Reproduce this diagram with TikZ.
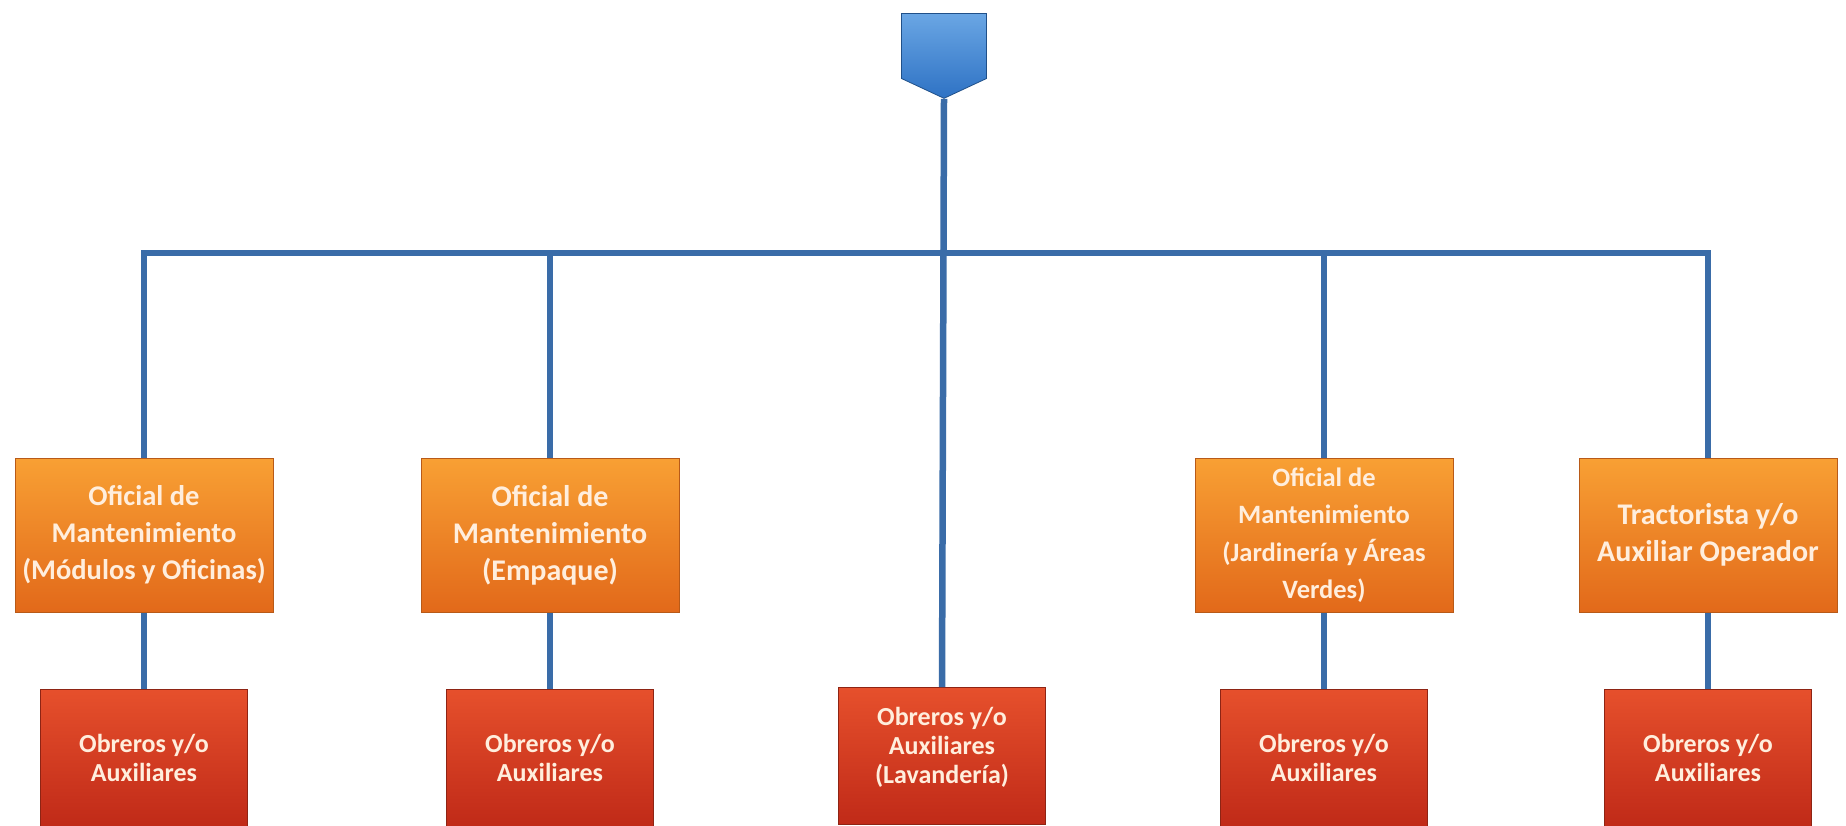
\documentclass[tikz,border=0pt]{standalone}
\usepackage{fontspec}
\setmainfont{Carlito}
\usetikzlibrary{positioning,shapes.symbols}
\definecolor{LineBlue}{HTML}{3A6CA8}
\definecolor{HeadBlue}{HTML}{2E72C4}
\definecolor{HeadTop}{HTML}{6AA6E4}
\definecolor{OffTop}{HTML}{F8A034}
\definecolor{OffMid}{HTML}{F07B1E}
\definecolor{OffBot}{HTML}{E2691A}
\definecolor{OffEdge}{HTML}{B85A18}
\definecolor{WrkTop}{HTML}{E6502C}
\definecolor{WrkMid}{HTML}{D8381C}
\definecolor{WrkBot}{HTML}{C02A18}
\definecolor{WrkEdge}{HTML}{8E2414}
\definecolor{PaleText}{HTML}{FFEEDD}

\begin{document}
\begin{tikzpicture}[
    x=1pt, y=-1pt,
    conn/.style={draw=LineBlue, line width=6.5pt},
    head/.style={signal, signal to=south, signal from=nowhere, signal pointer angle=130,
      draw=HeadBlue!70!black, line width=0.8pt, top color=HeadTop, bottom color=HeadBlue,
      minimum width=85pt, minimum height=65pt, inner sep=0pt},
    officer/.style={rectangle, draw=OffEdge, line width=1pt, top color=OffTop, middle color=OffMid,
      bottom color=OffBot, minimum width=258pt, minimum height=154pt, inner sep=2pt,
      align=center, text=PaleText, font=\bfseries\fontsize{30}{37}\selectfont},
    worker/.style={rectangle, draw=WrkEdge, line width=1pt, top color=WrkTop, middle color=WrkMid,
      bottom color=WrkBot, minimum width=207pt, minimum height=137pt, inner sep=2pt,
      align=center, text=PaleText, font=\bfseries\fontsize{26}{29}\selectfont}
]
\fill[white] (0,0) rectangle (1846,825);
\useasboundingbox (0,0) rectangle (1846,825);

% --- head ---
\node[head] (chief) at (944,46) {};
\coordinate (bus) at (944,253);

% --- officers ---
\node[officer, font=\bfseries\fontsize{28.5}{37}\selectfont] (ofmod) at (144,535) {Oficial de\\Mantenimiento\\(Módulos y Oficinas)};
\node[officer] (ofemp) at (550,535) {Oficial de\\Mantenimiento\\(Empaque)};
\node[officer, font=\bfseries\fontsize{26.5}{37.5}\selectfont] (ofjar) at (1324,535) {Oficial de\\Mantenimiento\\(Jardinería y Áreas\\Verdes)};
\node[officer] (tract) at (1708,535) {Tractorista y/o\\Auxiliar Operador};

% --- workers ---
\node[worker, below=76pt of ofmod] (wmod) {Obreros y/o\\Auxiliares};
\node[worker, below=76pt of ofemp] (wemp) {Obreros y/o\\Auxiliares};
\node[worker, text depth=22pt] (wlav) at (942,756) {Obreros y/o\\Auxiliares\\(Lavandería)};
\node[worker, below=76pt of ofjar] (wjar) {Obreros y/o\\Auxiliares};
\node[worker, below=76pt of tract] (wtra) {Obreros y/o\\Auxiliares};

% --- connectors ---
\draw[conn] (ofmod.north) |- (bus) -| (tract.north);
\draw[conn] (ofemp.north) -- (ofemp.north |- bus);
\draw[conn] (ofjar.north) -- (ofjar.north |- bus);
\draw[conn] (chief.south) -- (wlav.north);
\draw[conn] (ofmod) -- (wmod);
\draw[conn] (ofemp) -- (wemp);
\draw[conn] (ofjar) -- (wjar);
\draw[conn] (tract) -- (wtra);
\end{tikzpicture}
\end{document}
